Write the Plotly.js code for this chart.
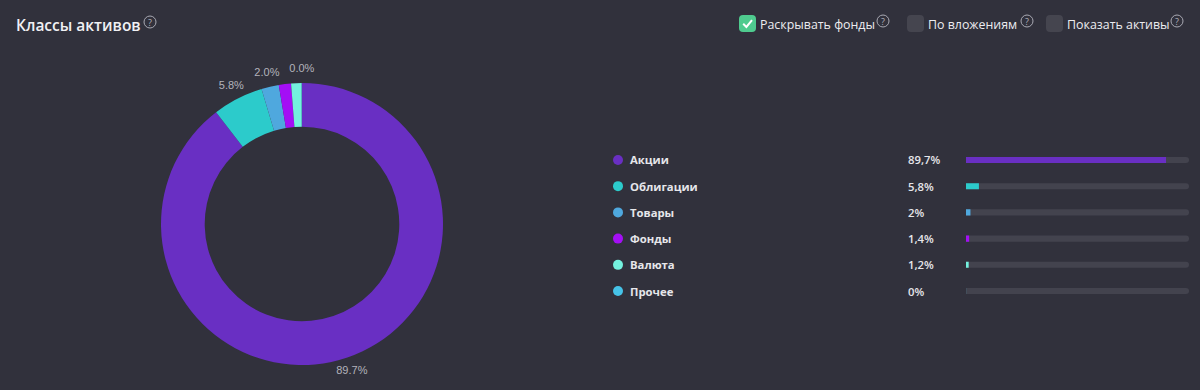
<!DOCTYPE html>
<html>
<head>
<meta charset="utf-8">
<script src="https://cdn.plot.ly/plotly-3.0.1.min.js"></script>
<style>
html,body{margin:0;padding:0;background:#31313c;}
#chart{width:1200px;height:390px;}
</style>
</head>
<body>
<div id="chart"></div>
<script>
// ---- data ----
const categories = ['Акции', 'Облигации', 'Товары', 'Фонды', 'Валюта', 'Прочее'];
const shares = [89.7, 5.8, 2.0, 1.4, 1.2, 0.04];
const shareLabels = ['89,7%', '5,8%', '2%', '1,4%', '1,2%', '0%'];
const pieLabelShown = [true, true, true, false, false, true];
const colors = ['#692fc3', '#2ccbcb', '#4fa8de', '#a40ff5', '#74f1de', '#46c3e8'];
const options = ['Раскрывать фонды', 'По вложениям', 'Показать активы'];
const optionChecked = [true, false, false];
const titleText = 'Классы активов';

// ---- helpers (pixel -> paper) ----
const W = 1200, H = 390;
const px = x => x / W;
const py = y => 1 - y / H;
function roundRect(x0, y0, x1, y1, r) {
  return 'M' + px(x0 + r) + ',' + py(y0) +
    ' L' + px(x1 - r) + ',' + py(y0) +
    ' Q' + px(x1) + ',' + py(y0) + ' ' + px(x1) + ',' + py(y0 + r) +
    ' L' + px(x1) + ',' + py(y1 - r) +
    ' Q' + px(x1) + ',' + py(y1) + ' ' + px(x1 - r) + ',' + py(y1) +
    ' L' + px(x0 + r) + ',' + py(y1) +
    ' Q' + px(x0) + ',' + py(y1) + ' ' + px(x0) + ',' + py(y1 - r) +
    ' L' + px(x0) + ',' + py(y0 + r) +
    ' Q' + px(x0) + ',' + py(y0) + ' ' + px(x0 + r) + ',' + py(y0) + ' Z';
}
const shapes = [];
const annotations = [];
function helpIcon(cx, cy) {
  const r = 6;
  shapes.push({type: 'circle', xref: 'paper', yref: 'paper',
    x0: px(cx - r), x1: px(cx + r), y0: py(cy + r), y1: py(cy - r),
    line: {color: '#a9a9b3', width: 1}, fillcolor: 'rgba(0,0,0,0)'});
  annotations.push({xref: 'paper', yref: 'paper', x: px(cx), y: py(cy + 0.2),
    text: '?', showarrow: false, xanchor: 'center', yanchor: 'middle',
    font: {family: 'Open Sans', size: 9, color: '#b0b0ba'}});
}

// title
annotations.push({xref: 'paper', yref: 'paper', x: px(14), y: py(25),
  text: titleText, showarrow: false, xanchor: 'left', yanchor: 'middle',
  font: {family: 'Open Sans', size: 15.5, color: '#f1f1f4', weight: 600}});
helpIcon(150, 22);

// options (checkboxes)
const boxX = [739, 907, 1046];
const iconX = [883, 1027, 1177];
options.forEach((t, i) => {
  const x0 = boxX[i];
  shapes.push({type: 'path', xref: 'paper', yref: 'paper',
    path: roundRect(x0, 15, x0 + 17, 32, 4),
    fillcolor: optionChecked[i] ? '#4fcb8f' : '#45454f', line: {width: 0}});
  if (optionChecked[i]) {
    shapes.push({type: 'path', xref: 'paper', yref: 'paper',
      path: 'M' + px(x0 + 4.2) + ',' + py(23.8) + ' L' + px(x0 + 7.4) + ',' + py(27) +
        ' L' + px(x0 + 13) + ',' + py(20.2),
      line: {color: '#ffffff', width: 2}});
  }
  annotations.push({xref: 'paper', yref: 'paper', x: px(x0 + 19), y: py(24),
    text: t, showarrow: false, xanchor: 'left', yanchor: 'middle',
    font: {family: 'Open Sans', size: 12.4, color: '#ececf0'}});
  helpIcon(iconX[i], 21);
});

// legend texts (names and percents) at category rows
categories.forEach((c, i) => {
  annotations.push({xref: 'paper', yref: 'y', x: px(628), y: c,
    text: c, showarrow: false, xanchor: 'left', yanchor: 'middle',
    font: {family: 'Open Sans', size: 11.3, color: '#e6e6ea', weight: 700}});
  annotations.push({xref: 'paper', yref: 'y', x: px(906), y: c,
    text: shareLabels[i], showarrow: false, xanchor: 'left', yanchor: 'middle',
    font: {family: 'Open Sans', size: 11.3, color: '#e6e6ea', weight: 600}});
});

// ---- traces ----
const pie = {
  type: 'pie',
  labels: categories,
  values: shares,
  marker: {colors: colors, line: {width: 0}},
  sort: false,
  direction: 'clockwise',
  rotation: 0,
  hole: 0.69,
  textinfo: 'none',
  domain: {x: [px(161), px(443)], y: [py(365), py(83)]},
  hoverinfo: 'none',
  showlegend: false
};

// pie percentage labels: polar text at each slice's mid angle
const total = shares.reduce((a, b) => a + b, 0);
let cum = 0;
const midAngles = shares.map(v => { const m = (cum + v / 2) / total * 360; cum += v; return m; });
const labelIdx = shares.map((v, i) => i).filter(i => pieLabelShown[i]);
const pieLabels = {
  type: 'scatterpolar', mode: 'text',
  theta: labelIdx.map(i => midAngles[i]),
  r: labelIdx.map(() => 155),
  text: labelIdx.map(i => shares[i].toFixed(1) + '%'),
  textposition: 'middle center',
  textfont: {family: 'Liberation Sans, Arial', size: 11, color: '#b3b3bb'},
  cliponaxis: false, hoverinfo: 'none', showlegend: false, subplot: 'polar'
};

const track = {
  type: 'bar', orientation: 'h',
  y: categories, x: categories.map(() => 100),
  marker: {color: '#43434e', cornerradius: 3},
  width: 0.23, hoverinfo: 'none', showlegend: false,
  xaxis: 'x', yaxis: 'y'
};
const bars = {
  type: 'bar', orientation: 'h',
  y: categories, x: shares,
  marker: {color: colors, cornerradius: 3},
  width: 0.23, hoverinfo: 'none', showlegend: false,
  xaxis: 'x', yaxis: 'y'
};
const dots = {
  type: 'scatter', mode: 'markers',
  y: categories, x: categories.map(() => 618),
  marker: {color: colors, size: 10},
  hoverinfo: 'none', showlegend: false,
  xaxis: 'x2', yaxis: 'y', cliponaxis: false
};

const rowTop = 145.7, rowBottom = 305.3;
const layout = {
  width: W, height: H,
  margin: {l: 0, r: 0, t: 0, b: 0, pad: 0},
  paper_bgcolor: '#31313c',
  plot_bgcolor: 'rgba(0,0,0,0)',
  barmode: 'overlay',
  xaxis: {domain: [px(966), px(1189)], range: [0, 100], visible: false, fixedrange: true},
  xaxis2: {domain: [0, 1], range: [0, W], visible: false, fixedrange: true, anchor: 'y'},
  yaxis: {domain: [py(rowBottom), py(rowTop)], type: 'category', categoryorder: 'array',
    categoryarray: categories, autorange: 'reversed', visible: false, fixedrange: true},
  polar: {
    domain: {x: [px(302 - 166), px(302 + 166)], y: [0, py(224 - 166)]},
    bgcolor: 'rgba(0,0,0,0)',
    radialaxis: {range: [0, 166], visible: false},
    angularaxis: {rotation: 90, direction: 'clockwise', visible: false}
  },
  shapes: shapes,
  annotations: annotations,
  showlegend: false
};

Plotly.newPlot('chart', [pie, pieLabels, track, bars, dots], layout, {displayModeBar: false, staticPlot: true});
</script>
</body>
</html>
